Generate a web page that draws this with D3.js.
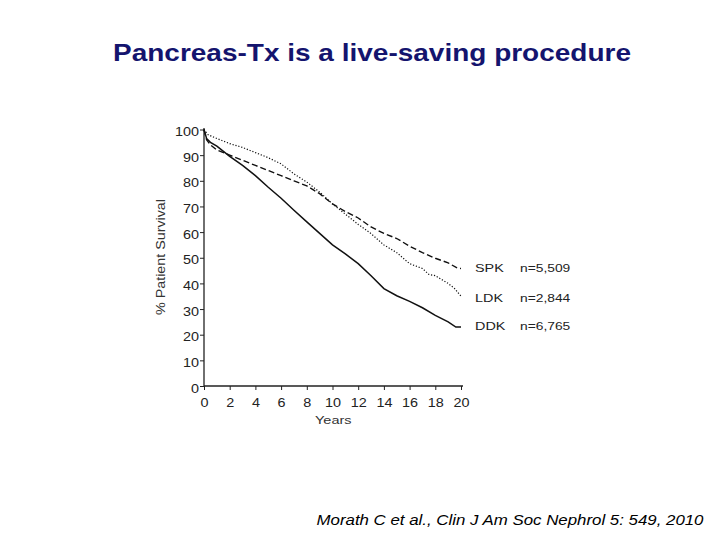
<!DOCTYPE html>
<html><head><meta charset="utf-8">
<script src="https://cdn.jsdelivr.net/npm/d3@7"></script>
<style>body{margin:0;background:#fff}svg{display:block}</style>
</head><body>
<script>
const title = "Pancreas-Tx is a live-saving procedure";
const citation = "Morath C et al., Clin J Am Soc Nephrol 5: 549, 2010";
const xTicks = [0,2,4,6,8,10,12,14,16,18,20];
const yTicks = [0,10,20,30,40,50,60,70,80,90,100];
const seriesNames = ["SPK","LDK","DDK"];
const seriesN = ["n=5,509","n=2,844","n=6,765"];
const spkYears = [0,0.2,0.5,1,2,3,4,5,6,7,8,9,10,11,12,13,14,15,16,17,18,19,19.7,20];
const spkVals  = [100,96,94,92,90,88,86,84,82,80,78,75,71,68,65.5,62,59.5,57.5,54.5,52,49.8,48,46,45.8];
const ldkYears = [0,0.3,1,2,3,4,5,6,7,8,9,10,11,12,13,14,15,16,17,17.5,18,19,19.5,20];
const ldkVals  = [100,98,96.5,94.5,93,91,89,86.6,82.7,79.5,75.6,71,67,63,59.4,55,52,47.7,45.8,43.5,43,40,38,35];
const ddkYears = [0,0.2,0.5,1,2,3,4,5,6,7,8,9,10,11,12,13,14,15,16,17,18,19,19.6,20];
const ddkVals  = [100,96.5,95,93.5,89.5,86,82,77.5,73.2,68.5,64,59.5,55,51.5,47.7,43,38,35.2,33,30.5,27.5,25,23,23];

const W=720,H=540;
const font="Liberation Sans, Arial, Helvetica, sans-serif";
const svg=d3.select("body").append("svg").attr("width",W).attr("height",H);
function stretch(sel,k){
  sel.each(function(){
    const l=this.getComputedTextLength();
    d3.select(this).attr("textLength",l*k).attr("lengthAdjust","spacingAndGlyphs");
  });
}
svg.append("text").attr("x",113).attr("y",61)
  .attr("font-family",font).attr("font-weight","bold")
  .attr("font-size",24).attr("fill","#14146e").text(title)
  .attr("textLength",518).attr("lengthAdjust","spacingAndGlyphs");
svg.append("text").attr("x",316.5).attr("y",524.5)
  .attr("font-family",font).attr("font-style","italic")
  .attr("font-size",15.5).attr("fill","#000").text(citation)
  .attr("textLength",387).attr("lengthAdjust","spacingAndGlyphs");

const x=d3.scaleLinear().domain([0,20]).range([204,461]);
const y=d3.scaleLinear().domain([0,100]).range([386,129.5]);

const g=svg.append("g");
// x axis
const xa=g.append("g").attr("transform","translate(0,386)");
xa.call(d3.axisBottom(x).tickValues(d3.range(0,21,1)).tickSize(4).tickFormat(""));
xa.call(d3.axisBottom(x).tickValues(xTicks).tickSize(4).tickFormat(d3.format("d")));
xa.selectAll(".domain").attr("d","M204,0H463").attr("stroke-width",1.3).attr("stroke","#222");
xa.selectAll("text").attr("font-family",font).attr("font-size",12).attr("fill","#222")
  .attr("y",21).attr("dy",0);
stretch(xa.selectAll("text"),1.2);
xa.selectAll("line").attr("stroke","#222");
// y axis
const ya=g.append("g").attr("transform","translate(204,0)");
ya.call(d3.axisLeft(y).tickValues(d3.range(0,101,5)).tickSize(3).tickFormat(""));
ya.call(d3.axisLeft(y).tickValues(yTicks).tickSize(4).tickFormat(d3.format("d")));
ya.selectAll(".domain").attr("d","M0,128V386").attr("stroke-width",1.3).attr("stroke","#222");
ya.selectAll("text").attr("font-family",font).attr("font-size",12).attr("fill","#222")
  .attr("x",-5).attr("dy","0.5em");
stretch(ya.selectAll("text"),1.2);
ya.selectAll("line").attr("stroke","#222");

svg.append("text").attr("x",333.3).attr("y",424).attr("text-anchor","middle")
  .attr("font-family",font).attr("font-size",11.5).attr("fill","#333").text("Years")
  .attr("textLength",36.5).attr("lengthAdjust","spacingAndGlyphs");
svg.append("text").attr("transform","translate(165,257) rotate(-90)").attr("text-anchor","middle")
  .attr("font-family",font).attr("font-size",12.5).attr("fill","#333").text("% Patient Survival")
  .attr("textLength",116).attr("lengthAdjust","spacingAndGlyphs");

const line=d3.line().x(d=>x(d[0])).y(d=>y(d[1]));
const data=[
  {pts:d3.zip(spkYears,spkVals),dash:"6,3",w:1.4},
  {pts:d3.zip(ldkYears,ldkVals),dash:"1.2,1.8",w:1.2},
  {pts:d3.zip(ddkYears,ddkVals),dash:null,w:1.5}
];
data.forEach(s=>{
  svg.append("path").attr("d",line(s.pts)).attr("fill","none").attr("stroke","#111")
    .attr("stroke-width",s.w).attr("stroke-dasharray",s.dash);
});

svg.append("clipPath").attr("id","clip").append("rect").attr("x",0).attr("y",0).attr("width",572).attr("height",H);
const leg=svg.append("g").attr("clip-path","url(#clip)");
const legY=[272,301.5,330];
seriesNames.forEach((n,i)=>{
  leg.append("text").attr("x",475).attr("y",legY[i]).attr("font-family",font).attr("font-size",11.5).attr("fill","#222").text(n)
    .call(s=>stretch(s,1.25));
  leg.append("text").attr("x",520).attr("y",legY[i]).attr("font-family",font).attr("font-size",11.5).attr("fill","#222").text(seriesN[i])
    .call(s=>stretch(s,1.2));
});
</script>
</body></html>
